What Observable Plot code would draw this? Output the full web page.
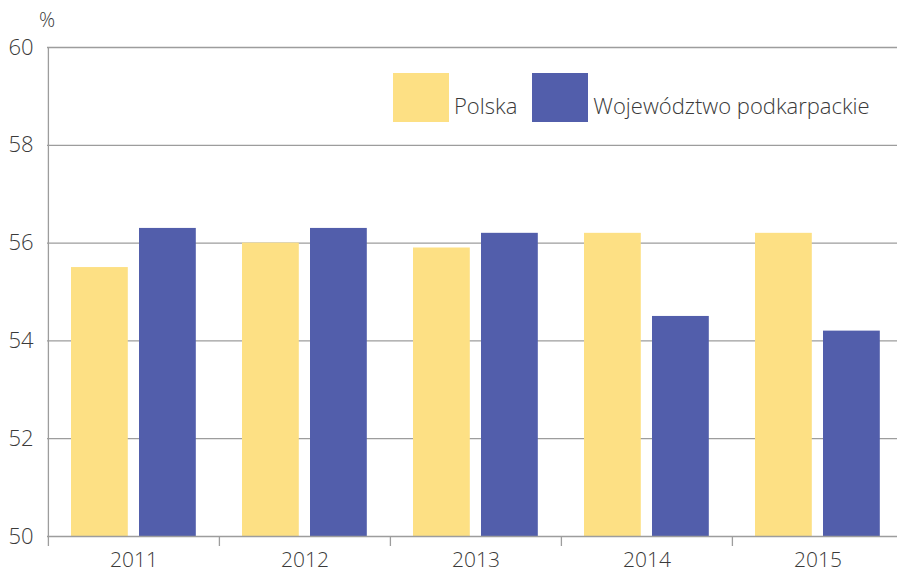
<!DOCTYPE html>
<html><head><meta charset="utf-8">
<script src="https://cdn.jsdelivr.net/npm/d3@7"></script>
<script src="https://cdn.jsdelivr.net/npm/@observablehq/plot@0.6"></script>
<style>
body{margin:0;background:#fff;}
#wrap{position:relative;width:897px;height:573px;overflow:hidden;font-family:"Open Sans",sans-serif;color:#3a3a3a;}
#wrap svg{position:absolute;left:0;top:0;}
.unit{position:absolute;left:39px;top:6px;font-size:20px;font-weight:300;}
.legend{position:absolute;left:393px;top:73px;display:flex;align-items:flex-end;font-size:22px;font-weight:300;}
.legend .sw{width:56px;height:49px;margin-right:5px;}
.legend .lab{margin-right:15px;line-height:1;padding-bottom:6px;}
</style></head><body><div id="wrap"></div>
<script>
const years = ["2011","2012","2013","2014","2015"];
const polska = [55.5, 56.0, 55.9, 56.2, 56.2];
const podkarpackie = [56.3, 56.3, 56.2, 54.5, 54.2];
const seriesNames = ["Polska", "Województwo podkarpackie"];
const seriesColors = ["#fde084", "#525eab"];
const yTicks = [50, 52, 54, 56, 58, 60];
const gridTicks = [52, 54, 56, 58, 60];
const unitLabel = "%";

const rows = years.flatMap((y, i) => [
  {year: y, series: seriesNames[0], value: polska[i]},
  {year: y, series: seriesNames[1], value: podkarpackie[i]}
]);

const W = 897, H = 573, mL = 47, mR = -6;
const bandW = (W - mL - mR) / years.length;
const barW = 57;
const gridColor = "#9d9d9d";

const chart = Plot.plot({
  width: W, height: H,
  marginLeft: mL, marginRight: mR, marginTop: 47, marginBottom: 37,
  style: {fontFamily: "Open Sans", fontSize: "21px", color: "#3a3a3a", background: "#fff", overflow: "visible"},
  x: {type: "band", domain: years, padding: 0},
  y: {domain: [50, 60]},
  marks: [
    Plot.ruleY(gridTicks, {stroke: gridColor, strokeWidth: 1.3}),
    Plot.barY(rows.filter(d => d.series === seriesNames[0]), {x: "year", y1: 50, y2: "value", fill: seriesColors[0], insetLeft: 23, insetRight: bandW - 23 - barW}),
    Plot.barY(rows.filter(d => d.series === seriesNames[1]), {x: "year", y1: 50, y2: "value", fill: seriesColors[1], insetLeft: 91, insetRight: bandW - 91 - barW}),
    Plot.ruleY([50], {stroke: gridColor, strokeWidth: 1.3}),
    Plot.ruleX(years.slice(1), {x: d => d, dx: -bandW / 2, y1: 50, y2: 50, insetBottom: -10, stroke: gridColor, strokeWidth: 1.3}),
    Plot.ruleX([years[0]], {x: d => d, dx: -bandW / 2, y1: 60, y2: 50, insetBottom: -10, stroke: gridColor, strokeWidth: 1.3}),
    Plot.axisY(yTicks, {tickSize: 0, tickPadding: 14, fontSize: 22, fontWeight: 300, label: null}),
    Plot.axisX({tickSize: 0, tickPadding: 16, fontSize: 21, fontWeight: 300, label: null})
  ]
});

const wrap = document.getElementById("wrap");
wrap.appendChild(chart);
const u = document.createElement("div");
u.className = "unit"; u.textContent = unitLabel;
wrap.appendChild(u);
const lg = document.createElement("div");
lg.className = "legend";
seriesNames.forEach((n, i) => {
  const s = document.createElement("div");
  s.className = "sw"; s.style.background = seriesColors[i];
  const t = document.createElement("div");
  t.className = "lab"; t.textContent = n;
  lg.appendChild(s); lg.appendChild(t);
});
wrap.appendChild(lg);
</script></body></html>
